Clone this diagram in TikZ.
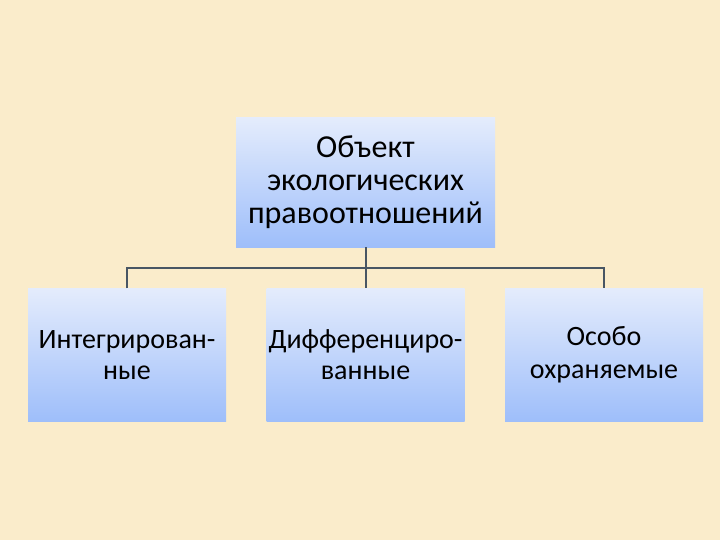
\documentclass[tikz,border=0pt]{standalone}
\usepackage{fontspec}
\setmainfont{Carlito}
\usepackage{tikz}
\definecolor{parch}{RGB}{250,236,203}
\definecolor{boxtop}{RGB}{228,236,252}
\definecolor{boxbot}{RGB}{158,190,250}
\definecolor{wire}{RGB}{72,86,100}

\begin{document}
\begin{tikzpicture}[x=1pt,y=-1pt,
  box/.style={top color=boxtop,bottom color=boxbot,draw=none,align=center,inner sep=0pt},
  headbox/.style={box,minimum width=259pt,minimum height=129pt,font=\fontsize{32}{33}\selectfont},
  kindbox/.style={box,minimum width=198pt,minimum height=133pt,font=\fontsize{28}{31}\selectfont},
  conn/.style={draw=wire,line width=2pt}]
\fill[parch] (0,0) rectangle (720,540);
\useasboundingbox (0,0) rectangle (720,540);
\node[headbox] (object) at (365.5,182.5) {Объект\\экологических\\правоотношений};
\node[kindbox] (integr) at (127,355) {Интегрирован-\\ные};
\node[kindbox] (differ) at (365.5,355) {Дифференциро-\\ванные};
\node[kindbox] (protect) at (604,355) {Особо\\[2pt]охраняемые};
\coordinate (fork) at (365.5,268);
\draw[conn] (object.south)--(fork);
\draw[conn] (integr.north)|-(fork)-|(protect.north);
\draw[conn] (fork)--(differ.north);
\end{tikzpicture}
\end{document}
